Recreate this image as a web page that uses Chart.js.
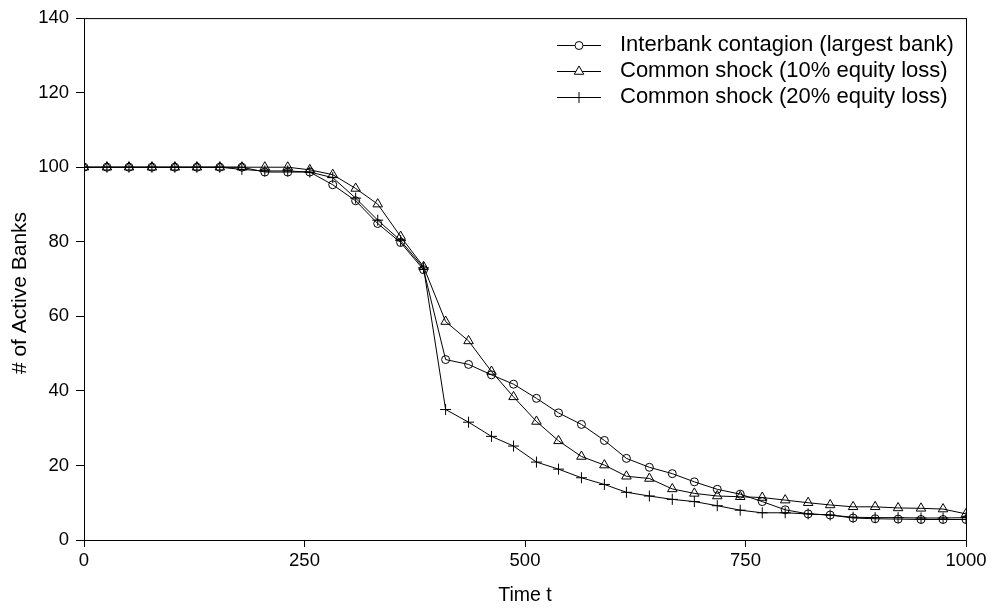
<!DOCTYPE html>
<html>
<head>
<meta charset="utf-8">
<script src="https://cdn.jsdelivr.net/npm/chart.js@4.4.1/dist/chart.umd.min.js"></script>
<style>
  html, body { margin: 0; padding: 0; background: #fff; }
  #wrap { width: 995px; height: 613px; }
</style>
</head>
<body>
<div id="wrap"><canvas id="lossChart" width="995" height="613"></canvas></div>
<script>
// time steps (x) shared by all series
var timeSteps = [0, 26, 51, 77, 103, 128, 154, 179, 205, 231, 256, 282, 308, 333, 359, 385, 410, 436, 462, 487,
                 513, 538, 564, 590, 615, 641, 667, 692, 718, 744, 769, 795, 821, 846, 872, 897, 923, 949, 974, 1000];

var seriesNames = ["Interbank contagion (largest bank)", "Common shock (10% equity loss)", "Common shock (20% equity loss)"];

var interbank = [100, 100, 100, 100, 100, 100, 100, 100, 98.7, 98.7, 98.7, 95.3, 91, 84.9, 79.8, 72.5, 48.4, 47.1, 44.3, 41.8,
                 38.0, 34.1, 31.0, 26.7, 21.9, 19.5, 17.8, 15.6, 13.6, 12.3, 10.3, 8.1, 7.0, 6.7, 5.9, 5.7, 5.6, 5.5, 5.5, 5.5];

var shock10 = [100, 100, 100, 100, 100, 100, 100, 100, 100, 100, 99.3, 98, 94.3, 90.1, 81.4, 73.3, 58.6, 53.4, 45.2, 38.4,
               31.8, 26.6, 22.4, 20.1, 17.1, 16.5, 13.7, 12.5, 11.8, 11.6, 11.4, 10.7, 10.0, 9.4, 8.9, 8.9, 8.6, 8.5, 8.3, 7.0];

var shock20 = [100, 100, 100, 100, 100, 100, 100, 99.4, 99, 99, 98.7, 97.2, 91.7, 85.8, 80.3, 73, 35.0, 31.6, 27.8, 25.2,
               20.9, 19.0, 16.7, 14.9, 12.8, 11.8, 10.9, 10.3, 9.2, 8.0, 7.3, 7.3, 7.0, 6.7, 6.1, 6.0, 6.0, 5.9, 5.9, 6.0];

var xTicks = [0, 250, 500, 750, 1000];
var yMin = 0, yMax = 140, yStep = 20;
var xTitle = "Time t";
var yTitle = "# of Active Banks";

function toPoints(vals) {
    var pts = [];
    for (var i = 0; i < vals.length; i++) {
        pts.push({ x: timeSteps[i], y: vals[i] });
    }
    return pts;
}

var fontFam = "'Liberation Sans', Arial, sans-serif";

// box around the plot, y title, and a legend with line + marker
var framePlugin = {
    id: "frame",
    afterDraw: function(chart) {
        var ctx = chart.ctx;
        var a = chart.chartArea;
        ctx.save();
        ctx.strokeStyle = "#000";
        ctx.lineWidth = 1;
        ctx.strokeRect(a.left + 0.5, a.top + 0.5, a.right - a.left, a.bottom - a.top);

        // y axis title
        ctx.save();
        ctx.translate(20, 293);
        ctx.rotate(-Math.PI / 2);
        ctx.font = "21px " + fontFam;
        ctx.textAlign = "center";
        ctx.textBaseline = "middle";
        ctx.fillStyle = "#000";
        ctx.fillText(yTitle, 0, 0);
        ctx.restore();

        var lx0 = 557, lx1 = 601, tx = 620;
        var rows = [45, 71, 97];
        ctx.font = "22px " + fontFam;
        ctx.textBaseline = "middle";
        chart.data.datasets.forEach(function(ds, i) {
            var y = rows[i];
            ctx.strokeStyle = "#000";
            ctx.lineWidth = 1;
            ctx.beginPath();
            ctx.moveTo(lx0, y + 0.5);
            ctx.lineTo(lx1, y + 0.5);
            ctx.stroke();
            ctx.fillStyle = "#fff";
            Chart.helpers.drawPoint(ctx, {
                pointStyle: ds.pointStyle,
                radius: ds.pointRadius,
                rotation: 0,
                borderWidth: 1
            }, (lx0 + lx1) / 2, y + 0.5);
            ctx.fillStyle = "#000";
            ctx.fillText(ds.label, tx, y);
        });
        ctx.restore();
    }
};

var ctx1 = document.getElementById("lossChart");

var data1 = {
    datasets: [
        {
            label: seriesNames[0],
            data: toPoints(interbank),
            borderColor: "#000",
            borderWidth: 1,
            pointStyle: "circle",
            pointRadius: 4,
            pointBorderColor: "#000",
            pointBackgroundColor: "rgba(0,0,0,0)",
            pointBorderWidth: 1
        },
        {
            label: seriesNames[1],
            data: toPoints(shock10),
            borderColor: "#000",
            borderWidth: 1,
            pointStyle: "triangle",
            pointRadius: 5.5,
            pointBorderColor: "#000",
            pointBackgroundColor: "rgba(0,0,0,0)",
            pointBorderWidth: 1
        },
        {
            label: seriesNames[2],
            data: toPoints(shock20),
            borderColor: "#000",
            borderWidth: 1,
            pointStyle: "cross",
            pointRadius: 5.5,
            pointBorderColor: "#000",
            pointBackgroundColor: "rgba(0,0,0,0)",
            pointBorderWidth: 1
        }
    ]
};

var options1 = {
    responsive: false,
    animation: false,
    layout: { padding: { left: 0, top: 17, right: 29, bottom: 0 } },
    plugins: {
        legend: { display: false },
        tooltip: { enabled: false }
    },
    elements: { line: { tension: 0 } },
    scales: {
        x: {
            type: "linear",
            min: 0,
            max: 1000,
            afterBuildTicks: function(scale) {
                scale.ticks = xTicks.map(function(v) { return { value: v }; });
            },
            afterFit: function(scale) { scale.height = 73; },
            grid: { drawOnChartArea: false, drawTicks: true, tickLength: 7, color: "#000" },
            border: { color: "#000", width: 1 },
            ticks: {
                color: "#000", padding: 3, maxRotation: 0,
                font: { size: 18.5, family: fontFam },
                callback: function(v) { return String(v); }
            },
            title: { display: true, text: xTitle, color: "#000", padding: { top: 4, bottom: 6 }, font: { size: 19.5, family: fontFam } }
        },
        y: {
            min: yMin,
            max: yMax,
            afterFit: function(scale) { scale.width = 84; },
            grid: { drawOnChartArea: false, drawTicks: true, tickLength: 8, color: "#000" },
            border: { color: "#000", width: 1 },
            ticks: { stepSize: yStep, color: "#000", padding: 7, font: { size: 18.5, family: fontFam } },
            title: { display: false }
        }
    }
};

var chart1 = new Chart(ctx1, {
    type: "line",
    data: data1,
    options: options1,
    plugins: [framePlugin]
});
</script>
</body>
</html>
